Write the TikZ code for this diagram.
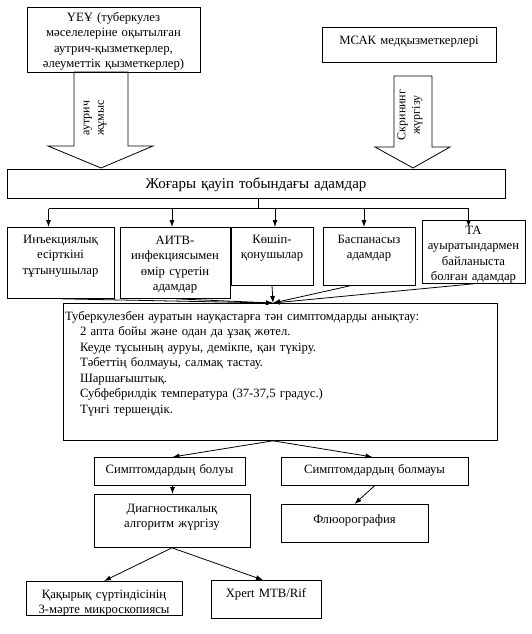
\documentclass[tikz,border=0pt]{standalone}
\usepackage{fontspec}
\setmainfont{Liberation Serif}
\usetikzlibrary{arrows.meta}
\newcommand{\fs}{\fontsize{12.7pt}{15.5pt}\selectfont}
\newcommand{\fb}{\fontsize{15pt}{18pt}\selectfont}
\newcommand{\fl}{\fontsize{12pt}{14.5pt}\selectfont}
\newcommand{\tind}{\hspace*{15pt}}

\begin{document}
\begin{tikzpicture}[x=1pt,y=-1pt,
  box/.style={draw, line width=0.8pt, align=center, anchor=north,
    inner xsep=2pt, inner ysep=3pt, text height=13pt, font=\fs},
  conn/.style={line width=0.8pt, -{Latex[length=7pt,width=5pt]}},
  fat/.style={draw, line width=0.8pt}]
\useasboundingbox (0,0) rectangle (532,634);

\node[box, text width=169pt, text height=11pt, text depth=48pt] (ueu) at (113.5,7)
  {ҮЕҰ (туберкулез\\ мәселелеріне оқытылған\\ аутрич-қызметкерлер,\\ әлеуметтік қызметкерлер)};
\node[box, text width=170pt, text height=14pt, text depth=15pt] (msak) at (409,27)
  {МСАК медқызметкерлері};

\draw[fat] (74,72) -- (74,146) -- (48,146) -- (101,168) -- (153,146) -- (128,146) -- (128,72) -- cycle;
\draw[fat] (394,76) -- (394,147) -- (375,147) -- (413,168) -- (450,147) -- (432,147) -- (432,76) -- cycle;
\node[rotate=90, align=center, font=\fl] (outreach) at (95,118) {аутрич\\ жұмыс};
\node[rotate=90, align=center, font=\fl] (screen) at (410,115) {Скрининг\\ жүргізу};

\node[box, text width=494pt, text height=16pt, text depth=7pt, font=\fb] (risk) at (256,169)
  {Жоғары қауіп тобындағы адамдар};

\node[box, text width=103pt, text depth=52pt] (inj) at (60.5,227)
  {Инъекциялық\\ есірткіні\\ тұтынушылар};
\node[box, text width=106pt, text height=14pt, text depth=51pt] (aitv) at (175,227)
  {АИТВ-\\ инфекциясымен\\ өмір сүретін\\ адамдар};
\node[box, text width=78pt, text depth=39pt] (kosh) at (272,227)
  {Көшіп-\\ қонушылар};
\node[box, text width=88pt, text depth=39pt] (bas) at (369,227)
  {Баспанасыз\\ адамдар};
\node[box, text width=99pt, text height=11pt, text depth=46pt] (ta) at (473.5,220)
  {ТА\\ ауыратындармен\\ байланыста\\ болған адамдар};

\draw[line width=0.8pt] ([xshift=2pt]risk.south) -- ++(0,10) coordinate (bus);
\draw[line width=0.8pt] ([xshift=-12pt]inj.north |- bus) -- ([xshift=-5pt]ta.north |- bus);
\foreach \b/\dx/\dy in {inj/-12/0, aitv/-3/0, kosh/3/0, bas/-5/0, ta/-5/-7}
  \draw[conn] ([xshift=\dx pt]\b.north |- bus) -- ([xshift=\dx pt, yshift=\dy pt]\b.north);

\node[box, text width=430pt, text height=14pt, text depth=117pt, align=left] (tub) at (280,303)
  {Туберкулезбен ауратын науқастарға тән симптомдарды анықтау:\\
   \tind 2 апта бойы және одан да ұзақ жөтел.\\
   \tind Кеуде тұсының ауруы, демікпе, қан түкіру.\\
   \tind Тәбеттің болмауы, салмақ тастау.\\
   \tind Шаршағыштық.\\
   \tind Субфебрилдік температура (37-37,5 градус.)\\
   \tind Түнгі тершеңдік.};
\coordinate (meet) at ([xshift=-7pt]tub.north);
\foreach \b/\dx in {inj/0, aitv/0, kosh/0, bas/-19, ta/0}
  \draw[conn] ([xshift=\dx pt]\b.south) -- (meet);

\node[box, text width=147pt, text depth=9pt] (bol) at (169.5,457) {Симптомдардың болуы};
\node[box, text width=183pt, text depth=9pt] (bolm) at (374.5,457) {Симптомдардың болмауы};
\coordinate (split) at ([xshift=-7pt]tub.south);
\draw[conn] (split) -- ([xshift=3pt]bol.north);
\draw[conn] (split) -- ([xshift=-2pt]bolm.north);

\node[box, text width=152pt, text height=15pt, text depth=32pt] (diag) at (172,494)
  {Диагностикалық\\ алгоритм жүргізу};
\node[box, text width=143pt, text height=16pt, text depth=16pt] (flu) at (354.5,504) {Флюорография};
\draw[conn] ([xshift=3pt]bol.south) -- ([xshift=3pt]bol.south |- diag.north);
\draw[conn] (bolm.south) -- (flu.north);

\node[box, text width=152pt, text height=14pt, text depth=14pt] (kak) at (104,581)
  {Қақырық сүртіндісінің\\ 3-мәрте микроскопиясы};
\node[box, text width=106pt, text height=14pt, text depth=18pt] (xpert) at (266,580) {Xpert MTB/Rif};
\draw[conn] (diag.south) -- (kak.north);
\draw[conn] (diag.south) -- ([xshift=-3pt]xpert.north);
\end{tikzpicture}
\end{document}
